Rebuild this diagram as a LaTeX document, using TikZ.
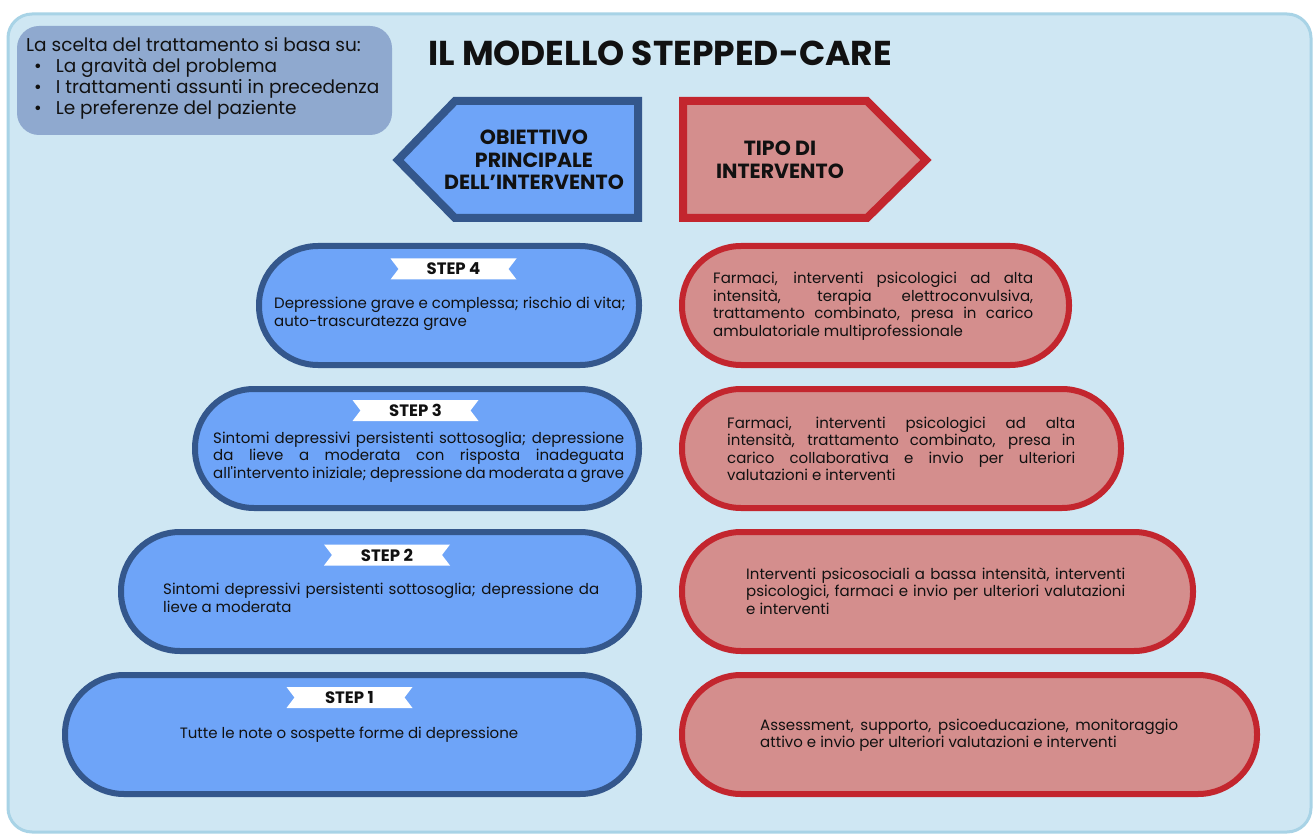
\documentclass[tikz,border=0pt]{standalone}
\usepackage{fontspec}
\setmainfont{Poppins}
\usetikzlibrary{calc}

\definecolor{panelfill}{HTML}{CFE7F3}
\definecolor{panelline}{HTML}{A8D3E6}
\definecolor{notefill}{HTML}{8FA9CF}
\definecolor{bluefill}{HTML}{6EA4F8}
\definecolor{blueline}{HTML}{34578C}
\definecolor{redfill}{HTML}{D48E8D}
\definecolor{redline}{HTML}{C3262E}
\definecolor{ink}{HTML}{111111}

\tikzset{
  pill/.style={line width=6pt, rounded corners=59pt, minimum height=119pt, inner sep=0pt},
  bluepill/.style={pill, draw=blueline, fill=bluefill},
  redpill/.style={pill, draw=redline, fill=redfill},
  body/.style={text=ink, inner sep=0pt, align=left,
    font=\fontsize{15}{17.5}\selectfont},
  header/.style={text=ink, inner sep=0pt, align=center,
    font=\bfseries\fontsize{20.5}{22.5}\selectfont},
  pics/ribbon/.style={code={
    \fill[white] (-63,-10.5) -- (63,-10.5) -- (55,0) -- (63,10.5)
      -- (-63,10.5) -- (-55,0) -- cycle;
    \node (-t) [text=ink, inner sep=0pt,
      font=\bfseries\fontsize{16.5}{16.5}\selectfont] {#1};}}
}
\newcommand{\jl}[2]{\makebox[#1pt][s]{#2}}

\begin{document}
\begin{tikzpicture}[x=1pt, y=-1pt]
\useasboundingbox (0,0) rectangle (1314,834);
\fill[white] (0,0) rectangle (1314,834);

% background panel
\draw[panelline, fill=panelfill, line width=3pt, rounded corners=24pt]
  (8,14) rectangle (1311,832);

% note on the criteria
\fill[notefill, rounded corners=22pt] (17,26) rectangle (392,135);
\node (crit) [anchor=west, text=ink, inner sep=0pt, align=left,
  font=\fontsize{18.5}{21}\selectfont] at (26,78)
  {La scelta del trattamento si basa su:\\
   \hspace*{8pt}\textbullet\hspace{14pt}La gravità del problema\\
   \hspace*{8pt}\textbullet\hspace{14pt}I trattamenti assunti in precedenza\\
   \hspace*{8pt}\textbullet\hspace{14pt}Le preferenze del paziente};

% title
\node (title) [text=ink, inner sep=0pt,
  font=\bfseries\fontsize{34.5}{34.5}\selectfont] at (660,53)
  {IL MODELLO STEPPED-CARE};

% column headers
\draw[blueline, fill=bluefill, line width=8pt, line join=miter]
  (398,160) -- (455,101) -- (638,101) -- (638,218) -- (455,218) -- cycle;
\node (hleft) [header] at (534,160)
  {OBIETTIVO\\PRINCIPALE\\DELL'INTERVENTO};
\draw[redline, fill=redfill, line width=8pt, line join=miter]
  (683,101) -- (867,101) -- (926,160) -- (867,218) -- (683,218) -- cycle;
\node (hright) [header] at (780,160) {TIPO DI\\INTERVENTO};

% steps: goals (left column)
\node (g4) [bluepill, minimum width=380pt] at (449,305.5) {};
\node (g3) [bluepill, minimum width=444pt] at (417,448.5) {};
\node (g2) [bluepill, minimum width=518pt] at (380,591.5) {};
\node (g1) [bluepill, minimum width=574pt] at (352,734.5) {};

\pic (s4) at (453.5,269) {ribbon=STEP 4};
\pic (s3) at (415.5,410.5) {ribbon=STEP 3};
\pic (s2) at (387,555) {ribbon=STEP 2};
\pic (s1) at (349.5,697.5) {ribbon=STEP 1};

\node (gt4) [body, anchor=west] at (274,314)
  {Depressione grave e complessa; rischio di vita;\\
   auto-trascuratezza grave};
\node (gt3) [body, anchor=west] at (213,457)
  {\jl{411}{Sintomi depressivi persistenti sottosoglia; depressione}\\
   \jl{411}{da lieve a moderata con risposta inadeguata}\\
   \jl{411}{all\textquotesingle intervento iniziale; depressione da moderata a grave}};
\node (gt2) [body, anchor=west] at (163,598)
  {\jl{436}{Sintomi depressivi persistenti sottosoglia; depressione da}\\
   lieve a moderata};
\node (gt1) [body] at (349,735) {Tutte le note o sospette forme di depressione};

% steps: interventions (right column)
\node (i4) [redpill, minimum width=387pt] at (875.5,305.5) {};
\node (i3) [redpill, minimum width=439pt] at (901.5,448.5) {};
\node (i2) [redpill, minimum width=511pt] at (937.5,591.5) {};
\node (i1) [redpill, minimum width=575pt] at (969.5,734.5) {};

\node (it4) [body, anchor=west] at (713,306)
  {\jl{320}{Farmaci, interventi psicologici ad alta}\\
   \jl{320}{intensità, terapia elettroconvulsiva,}\\
   \jl{320}{trattamento combinato, presa in carico}\\
   ambulatoriale multiprofessionale};
\node (it3) [body, anchor=west] at (727,449)
  {\jl{348}{Farmaci, interventi psicologici ad alta}\\
   \jl{348}{intensità, trattamento combinato, presa in}\\
   \jl{348}{carico collaborativa e invio per ulteriori}\\
   valutazioni e interventi};
\node (it2) [body, anchor=west] at (746,591)
  {\jl{379}{Interventi psicosociali a bassa intensità, interventi}\\
   \jl{379}{psicologici, farmaci e invio per ulteriori valutazioni}\\
   e interventi};
\node (it1) [body, anchor=west] at (760,735)
  {\jl{418}{Assessment, supporto, psicoeducazione, monitoraggio}\\
   attivo e invio per ulteriori valutazioni e interventi};
\end{tikzpicture}
\end{document}
